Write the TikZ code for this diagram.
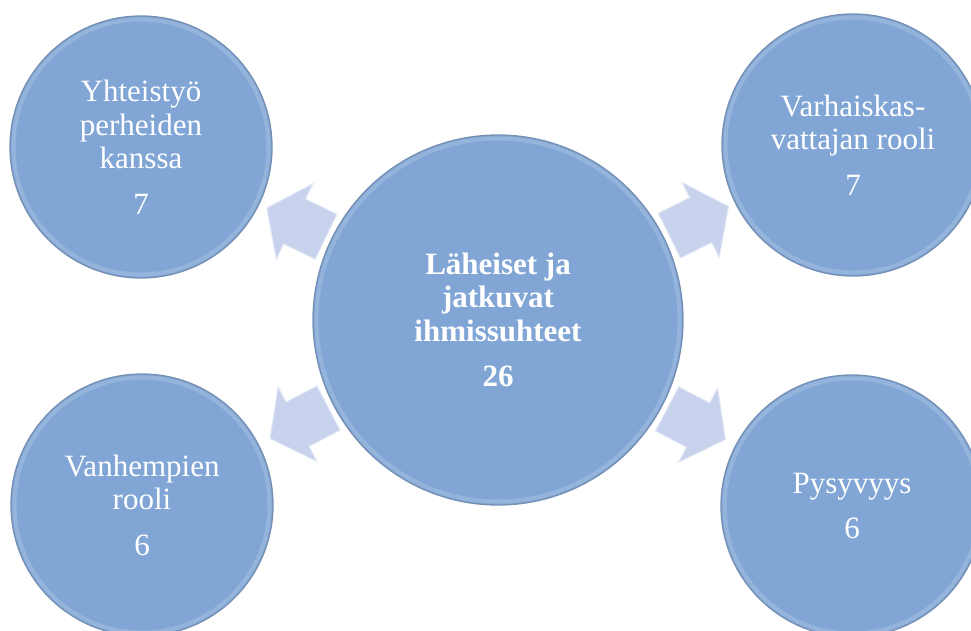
\documentclass[tikz,border=0pt]{standalone}
\usepackage{fontspec}
\setmainfont{Liberation Serif}
\usetikzlibrary{calc}
\definecolor{cfill}{RGB}{129,166,214}
\definecolor{crim}{RGB}{118,144,180}
\definecolor{afill}{RGB}{200,210,236}
\definecolor{aedge}{RGB}{228,233,247}
\begin{document}
\begin{tikzpicture}[x=1pt,y=-1pt,
  bubble/.style={circle, inner sep=0pt, fill=cfill, draw=crim, line width=1.3pt,
    text=white, align=center, font=\fontsize{31}{33.5}\selectfont,
    path picture={\draw[white, opacity=0.16, line width=4pt]
      let \p1=(path picture bounding box.east), \p2=(path picture bounding box.center)
      in (\p2) circle[radius={\x1-\x2-3.5pt}];}},
  big/.style={bubble, minimum size=370pt, font=\fontsize{31}{33.5}\selectfont\bfseries},
  small/.style={bubble, minimum size=262pt},
  arrowshape/.style={fill=afill, draw=aedge, line width=1pt, line join=miter},
  blockarrow/.pic={\path[arrowshape] (191,25) -- (226,25) -- (226,42) -- (257,0)
      -- (226,-42) -- (226,-25) -- (191,-25) -- cycle;}
]
\useasboundingbox (0,0) rectangle (971,630);
\clip (0,0) rectangle (971,630);
\fill[white] (0,0) rectangle (971,630);

\node[big] (c) at (498,320) {Läheiset ja\\jatkuvat\\ihmissuhteet\\[12pt]26};
\node[small] (tl) at (141,147) {Yhteistyö\\perheiden\\kanssa\\[12pt]7};
\node[small] (tr) at (853,145) {Varhaiskas-\\vattajan rooli\\[12pt]7};
\node[small] (bl) at (142,505) {Vanhempien\\rooli\\[12pt]6};
\node[small] (br) at (852,506) {Pysyvyys\\[12pt]6};

\foreach \s in {tl,tr,bl,br}{
  \path let \p1=($(\s.center)-(c.center)$), \n1={atan2(\y1,\x1)} in
    (c.center) pic[rotate=\n1] {blockarrow};
}
\end{tikzpicture}
\end{document}
